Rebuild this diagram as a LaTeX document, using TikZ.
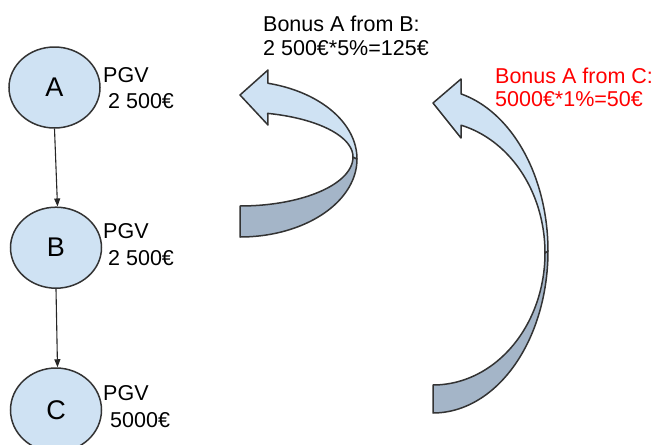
\documentclass[tikz,border=0pt]{standalone}
\usepackage{fontspec}
\setmainfont{Liberation Sans}
\usetikzlibrary{shapes.geometric,arrows.meta}
\definecolor{lblue}{HTML}{CFE2F3}
\definecolor{dblue}{HTML}{A4B5C8}
\definecolor{edgegray}{HTML}{333333}
\begin{document}
\begin{tikzpicture}[x=1pt,y=-1pt,
  circ/.style={ellipse,draw=edgegray,line width=1.5pt,fill=lblue,minimum width=91pt,minimum height=81pt,inner sep=0pt,font=\fontsize{27}{30}\selectfont},
  lbl/.style={anchor=base west,inner sep=0pt,font=\fontsize{21.5}{24}\selectfont},
  conn/.style={draw=black!85,line width=1.1pt,-{Triangle[length=8pt,width=6pt]}},
  band/.style={draw=edgegray,line width=1.5pt,line join=round}]
\useasboundingbox (0,0) rectangle (657,445);

% nodes
\node[circ] (A) at (54.5,87.5) {A};
\node[circ] (B) at (56,247.7) {B};
\node[circ,minimum height=84pt] (C) at (56,410) {C};

\node[lbl] (pA) at (103,82) {PGV};
\node[lbl] (vA) at (108,108) {2 500€};
\node[lbl] (pB) at (103,238) {PGV};
\node[lbl] (vB) at (108,265) {2 500€};
\node[lbl] (pC) at (103,400) {PGV};
\node[lbl] (vC) at (110,427) {5000€};

% connectors
\draw[conn] (A.south) -- ([xshift=1.5pt]B.north);
\draw[conn] (B.south) -- ([xshift=1.5pt]C.north);

% curved arrow 1 (B -> A)
\draw[band,fill=dblue] plot[domain=0:90,samples=40] ({240+113*cos(\x)},{157+49*sin(\x)})
  -- plot[domain=90:0,samples=40] ({240+117*cos(\x)},{159+78*sin(\x)}) -- cycle;
\draw[band,fill=lblue] (268,70) -- plot[domain=-76.2:0,samples=40] ({240+117*cos(\x)},{159+78*sin(\x)})
  -- plot[domain=0:-75.8,samples=40] ({240+113*cos(\x)},{157+45*sin(\x)})
  -- (268,125) -- (240,95) -- cycle;

% curved arrow 2 (C -> A)
\draw[band,fill=dblue] plot[domain=0:90,samples=50] ({433+112*cos(\x)},{253+132*sin(\x)})
  -- plot[domain=90:0,samples=50] ({433+115*cos(\x)},{251+162*sin(\x)}) -- cycle;
\draw[band,fill=lblue] (461,79) -- plot[domain=-75.9:0,samples=50] ({433+115*cos(\x)},{251+162*sin(\x)})
  -- plot[domain=0:-75.5,samples=50] ({433+112*cos(\x)},{253+132*sin(\x)})
  -- (461,138) -- (433,103) -- cycle;

% bonus texts
\node[lbl] (b1) at (263,31.7) {Bonus A from B:};
\node[lbl] (b2) at (263,55.7) {2 500€*5\%=125€};
\node[lbl,text=red] (c1) at (495,83.3) {Bonus A from C:};
\node[lbl,text=red] (c2) at (495,106.7) {5000€*1\%=50€};
\end{tikzpicture}
\end{document}
